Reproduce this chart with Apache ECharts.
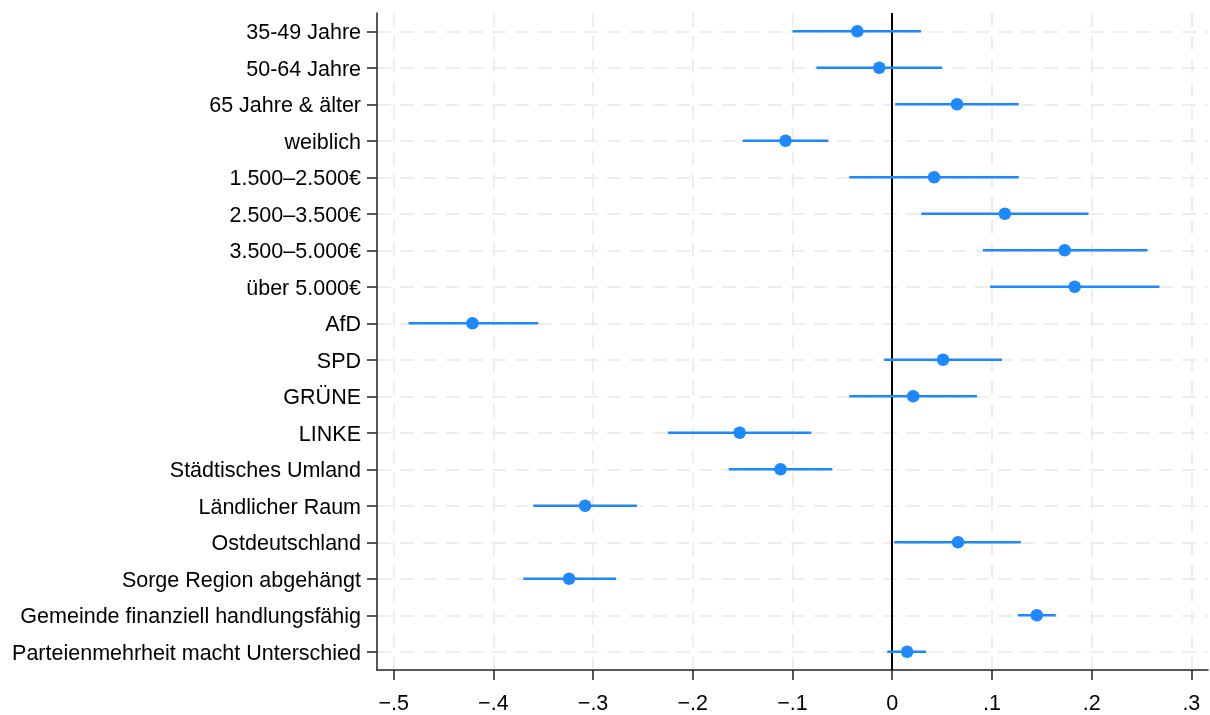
<!DOCTYPE html>
<html>
<head>
<meta charset="utf-8">
<script src="https://cdn.jsdelivr.net/npm/echarts@6/dist/echarts.min.js"></script>
<style>
html,body{margin:0;padding:0;background:#fff;}
#chart{width:1210px;height:715px;}
</style>
</head>
<body>
<div id="chart"></div>
<script>
var categories = [
  "35-49 Jahre", "50-64 Jahre", "65 Jahre & älter", "weiblich",
  "1.500–2.500€", "2.500–3.500€", "3.500–5.000€", "über 5.000€",
  "AfD", "SPD", "GRÜNE", "LINKE",
  "Städtisches Umland", "Ländlicher Raum", "Ostdeutschland",
  "Sorge Region abgehängt", "Gemeinde finanziell handlungsfähig",
  "Parteienmehrheit macht Unterschied"
];
var estimates = [-0.035, -0.013, 0.065, -0.107, 0.042, 0.113, 0.173, 0.183,
  -0.421, 0.051, 0.021, -0.153, -0.112, -0.308, 0.066, -0.324, 0.145, 0.015];
var ciLow = [-0.100, -0.076, 0.003, -0.150, -0.043, 0.029, 0.091, 0.098,
  -0.485, -0.008, -0.043, -0.225, -0.164, -0.360, 0.002, -0.370, 0.126, -0.005];
var ciHigh = [0.029, 0.050, 0.127, -0.064, 0.127, 0.197, 0.256, 0.268,
  -0.355, 0.110, 0.085, -0.081, -0.060, -0.256, 0.129, -0.277, 0.164, 0.034];
var xTicks = [-0.5, -0.4, -0.3, -0.2, -0.1, 0, 0.1, 0.2, 0.3];
var xMin = -0.5167, xMax = 0.3167;

var blue = '#1e88ff';
var font = '"Liberation Sans", Arial, sans-serif';

function fmt(v) {
  var r = Math.round(v * 10) / 10;
  if (Math.abs(r) < 1e-9) return '0';
  var s = Math.abs(r).toFixed(1).replace(/^0/, '');
  return (r < 0 ? '\u2212' : '') + s;
}

var ciData = categories.map(function (c, i) { return [ciLow[i], ciHigh[i], i]; });
var ptData = categories.map(function (c, i) { return [estimates[i], i]; });

var chart = echarts.init(document.getElementById('chart'), null, {renderer: 'canvas'});
chart.setOption({
  animation: false,
  backgroundColor: '#fff',
  grid: {left: 377, right: 2, top: 13, bottom: 45, containLabel: false},
  xAxis: {
    type: 'value', min: xMin, max: xMax,
    axisLine: {show: true, onZero: false, lineStyle: {color: '#222', width: 1.5}},
    axisTick: {show: true, length: 10, customValues: xTicks, lineStyle: {color: '#222', width: 1.5}},
    axisLabel: {customValues: xTicks, formatter: fmt, fontFamily: font, fontSize: 21.5, color: '#000', margin: 23},
    splitLine: {show: true, lineStyle: {color: '#e9e9e9', width: 1.5, type: [14, 9]}}
  },
  yAxis: {
    type: 'category', data: categories, inverse: true,
    axisLine: {show: true, onZero: false, lineStyle: {color: '#222', width: 1.5}},
    axisTick: {show: true, alignWithLabel: true, length: 10, lineStyle: {color: '#222', width: 1.5}},
    axisLabel: {
      margin: 16, interval: 0,
      formatter: function (v) { return '{t|' + v + '}'; },
      rich: {t: {fontFamily: font, fontSize: 21.5, color: '#000', padding: [4, 0, 0, 0]}}
    },
    splitLine: {show: true, alignWithLabel: true, interval: 0, lineStyle: {color: '#e9e9e9', width: 1.5, type: [14, 9]}}
  },
  series: [
    {
      type: 'custom',
      data: ciData,
      encode: {x: [0, 1], y: 2},
      z: 3,
      renderItem: function (params, api) {
        var p1 = api.coord([api.value(0), api.value(2)]);
        var p2 = api.coord([api.value(1), api.value(2)]);
        return {
          type: 'line',
          shape: {x1: p1[0], y1: p1[1], x2: p2[0], y2: p2[1]},
          style: {stroke: blue, lineWidth: 2.5}
        };
      }
    },
    {
      type: 'scatter',
      data: ptData,
      symbol: 'circle',
      symbolSize: 12.5,
      z: 4,
      itemStyle: {color: blue, opacity: 1},
      markLine: {
        silent: true, symbol: 'none', z: 2,
        label: {show: false},
        lineStyle: {color: '#000', width: 2, type: 'solid'},
        data: [{xAxis: 0}]
      }
    }
  ]
});
</script>
</body>
</html>
